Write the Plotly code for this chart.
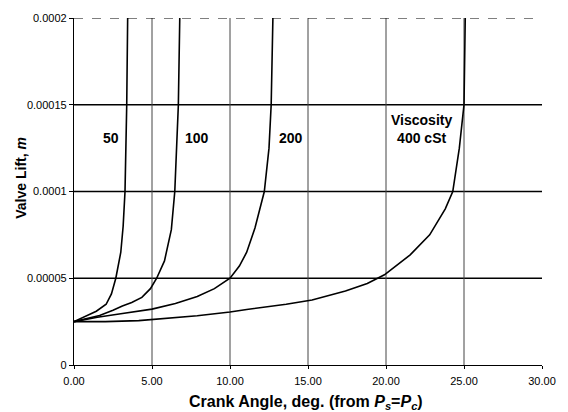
import plotly.graph_objects as go

# Data
angle_50 = [0, 0.5, 1.0, 1.43, 2.06, 2.4, 2.68, 3.0, 3.15, 3.27, 3.38, 3.44]
lift_50 = [2.5e-5, 2.7e-5, 2.9e-5, 3.1e-5, 3.5e-5, 4.1e-5, 5e-5, 6.5e-5, 8e-5, 1e-4, 1.5e-4, 2e-4]

angle_100 = [0, 0.8, 1.64, 2.5, 3.1, 3.7, 4.35, 4.9, 5.3, 5.8, 6.24, 6.46, 6.69, 6.78]
lift_100 = [2.5e-5, 2.65e-5, 2.85e-5, 3.15e-5, 3.4e-5, 3.6e-5, 3.9e-5, 4.4e-5, 5e-5, 6e-5, 7.8e-5, 1e-4, 1.5e-4, 2e-4]

angle_200 = [0, 1.5, 3.0, 5.0, 6.5, 7.9, 9.0, 10.0, 10.6, 11.07, 11.6, 12.0, 12.2, 12.5, 12.64, 12.75]
lift_200 = [2.5e-5, 2.75e-5, 2.95e-5, 3.22e-5, 3.55e-5, 3.95e-5, 4.4e-5, 5e-5, 5.7e-5, 6.5e-5, 7.9e-5, 9.3e-5, 1e-4, 1.25e-4, 1.5e-4, 2e-4]

angle_400 = [0, 2, 4.15, 6, 7.9, 10, 11.07, 13.6, 15.26, 17.4, 18.8, 19.9, 21.55, 22.8, 23.8, 24.28, 24.7, 25.0, 25.08]
lift_400 = [2.5e-5, 2.5e-5, 2.56e-5, 2.7e-5, 2.84e-5, 3.05e-5, 3.2e-5, 3.5e-5, 3.75e-5, 4.26e-5, 4.7e-5, 5.2e-5, 6.35e-5, 7.5e-5, 9e-5, 1e-4, 1.25e-4, 1.5e-4, 2e-4]

series = [
    (angle_50, lift_50, "50"),
    (angle_100, lift_100, "100"),
    (angle_200, lift_200, "200"),
    (angle_400, lift_400, "400 cSt"),
]

x_ticks = [0, 5, 10, 15, 20, 25, 30]
x_tick_text = ["0.00", "5.00", "10.00", "15.00", "20.00", "25.00", "30.00"]
y_ticks = [0, 0.00005, 0.0001, 0.00015, 0.0002]
y_tick_text = ["0", "0.00005", "0.0001", "0.00015", "0.0002"]

labels = [
    (2.4, 0.000131, "50"),
    (7.9, 0.000131, "100"),
    (13.9, 0.000131, "200"),
    (22.3, 0.000136, "Viscosity<br>400 cSt"),
]

x_title = "<b>Crank Angle, deg. (from <i>P<sub>s</sub></i>=<i>P<sub>c</sub></i>)</b>"
y_title = "<b>Valve Lift, <i>m</i></b>"

FONT = "Liberation Sans, Arial, sans-serif"

fig = go.Figure()
for xs, ys, name in series:
    fig.add_trace(go.Scatter(x=xs, y=ys, mode="lines", name=name,
                             line=dict(color="black", width=1.6),
                             showlegend=False, hoverinfo="skip"))

shapes = []
for yv in [0.00005, 0.0001, 0.00015]:
    shapes.append(dict(type="line", xref="x", yref="y", x0=0, x1=30, y0=yv, y1=yv,
                       line=dict(color="black", width=1.3), layer="below"))
for xv in [5, 10, 15, 20, 25]:
    shapes.append(dict(type="line", xref="x", yref="y", x0=xv, x1=xv, y0=0, y1=0.0002,
                       line=dict(color="#444444", width=1), layer="below"))
shapes.append(dict(type="line", xref="x", yref="y", x0=0, x1=30, y0=0.0002, y1=0.0002,
                   line=dict(color="black", width=1, dash="dash"), layer="below"))

for x, y, t in labels:
    fig.add_annotation(x=x, y=y, xref="x", yref="y", text="<b>" + t + "</b>",
                       showarrow=False, font=dict(family=FONT, size=14, color="black"))

# axis titles placed as annotations to match the reference positions
fig.add_annotation(x=0.495, y=-0.108, xref="paper", yref="paper", text=x_title,
                   showarrow=False, xanchor="center", yanchor="middle",
                   font=dict(family=FONT, size=16, color="black"))
fig.add_annotation(x=-0.113, y=0.54, xref="paper", yref="paper", text=y_title,
                   showarrow=False, textangle=-90, xanchor="center", yanchor="middle",
                   font=dict(family=FONT, size=14, color="black"))

fig.update_layout(
    width=568, height=412,
    margin=dict(l=74, r=15, t=13, b=47),
    paper_bgcolor="white", plot_bgcolor="white",
    font=dict(family=FONT, color="black"),
    shapes=shapes,
)
fig.update_xaxes(range=[0, 30], tickvals=x_ticks, ticktext=x_tick_text,
                 showgrid=False, zeroline=False, showline=True, linecolor="black", linewidth=1.3,
                 ticks="outside", ticklen=3, tickcolor="black", ticklabelstandoff=3,
                 tickfont=dict(family=FONT, size=11))
fig.update_yaxes(range=[0, 0.0002], tickvals=y_ticks, ticktext=y_tick_text,
                 showgrid=False, zeroline=False, showline=True, linecolor="black", linewidth=1.3,
                 ticks="outside", ticklen=4, tickcolor="black",
                 tickfont=dict(family=FONT, size=11))

fig.write_html("out.html")
